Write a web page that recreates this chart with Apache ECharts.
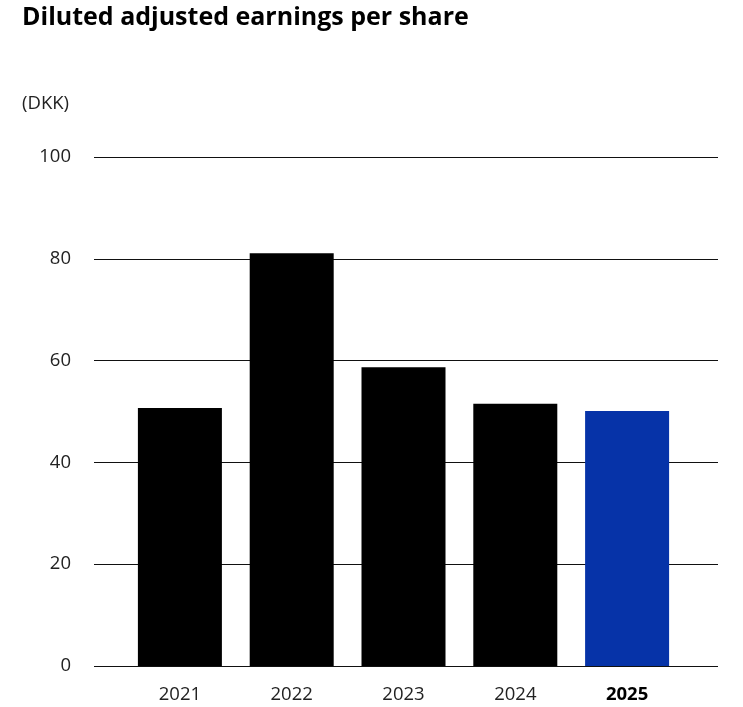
<!DOCTYPE html>
<html>
<head>
<meta charset="utf-8">
<script src="https://cdn.jsdelivr.net/npm/echarts@6/dist/echarts.min.js"></script>
<style>
  html, body { margin: 0; padding: 0; background: #fff; }
  #chart { width: 743px; height: 707px; }
</style>
</head>
<body>
<div id="chart"></div>
<script>
// Diluted adjusted EPS by year (DKK)
const years = ['2021', '2022', '2023', '2024', '2025'];
const eps = [50.7, 81.1, 58.7, 51.5, 50.1];
const yTicks = [0, 20, 40, 60, 80, 100];
const highlightYear = '2025';

const FONT = '"Open Sans", "Noto Sans", sans-serif';
const chart = echarts.init(document.getElementById('chart'), null, { renderer: 'canvas' });

const yMin = yTicks[0];
const yMax = yTicks[yTicks.length - 1];
const yStep = yTicks[1] - yTicks[0];

chart.setOption({
  animation: false,
  textStyle: { fontFamily: FONT },
  title: [
    {
      text: 'Diluted adjusted earnings per share',
      left: 22, top: 5, padding: 0,
      textStyle: { fontFamily: FONT, fontSize: 25, fontWeight: 'bold', color: '#000' }
    },
    {
      text: '(DKK)',
      left: 22, top: 94, padding: 0,
      textStyle: { fontFamily: FONT, fontSize: 18.5, fontWeight: 'normal', color: '#222' }
    }
  ],
  grid: [
    // wide grid: gridlines and value labels
    { left: 94, right: 25, top: 157, bottom: 41, containLabel: false },
    // inner grid: bars and category labels
    { left: 124, right: 60, top: 157, bottom: 41, containLabel: false }
  ],
  xAxis: [
    { gridIndex: 0, type: 'value', show: false, min: 0, max: 1 },
    {
      gridIndex: 1, type: 'category', data: years,
      axisLine: { show: false }, axisTick: { show: false },
      axisLabel: {
        margin: 19, fontSize: 18.5, color: '#222', fontFamily: FONT,
        formatter: v => v === highlightYear ? '{b|' + v + '}' : v,
        rich: { b: { fontWeight: 'bold', fontSize: 18.5, color: '#000', fontFamily: FONT } }
      }
    }
  ],
  yAxis: [
    {
      gridIndex: 0, type: 'value', min: yMin, max: yMax, interval: yStep,
      axisLine: { show: false }, axisTick: { show: false },
      axisLabel: { margin: 23, fontSize: 18.5, color: '#222', fontFamily: FONT },
      splitLine: { show: true, lineStyle: { color: '#111', width: 1 } }
    },
    {
      gridIndex: 1, type: 'value', min: yMin, max: yMax, interval: yStep,
      show: false, splitLine: { show: false }
    }
  ],
  series: [
    {
      type: 'bar', xAxisIndex: 1, yAxisIndex: 1,
      barWidth: 84,
      data: years.map((y, i) => ({
        value: eps[i],
        itemStyle: { color: y === highlightYear ? '#0633a8' : '#000' }
      })),
      z: 3
    }
  ]
});
</script>
</body>
</html>
